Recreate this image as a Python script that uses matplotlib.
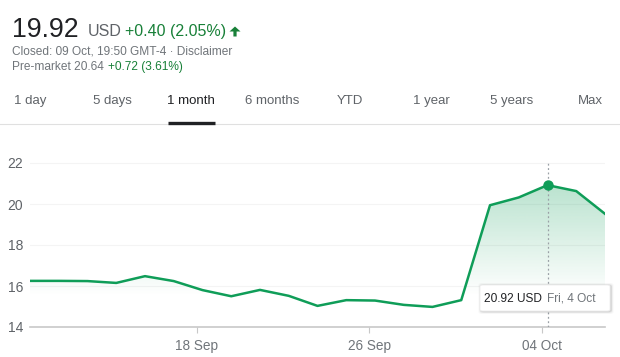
import numpy as np
import matplotlib
matplotlib.use("Agg")
import matplotlib.pyplot as plt
from matplotlib.patches import FancyBboxPatch, Polygon
from matplotlib.lines import Line2D

# ---------------- data ----------------
dates = ["10 Sep", "11 Sep", "12 Sep", "13 Sep", "16 Sep", "17 Sep", "18 Sep",
         "19 Sep", "20 Sep", "23 Sep", "24 Sep", "25 Sep", "26 Sep", "27 Sep",
         "30 Sep", "01 Oct", "02 Oct", "03 Oct", "04 Oct", "07 Oct", "08 Oct"]
prices = [16.25, 16.25, 16.24, 16.15, 16.48, 16.24, 15.80, 15.50, 15.81, 15.52,
          15.03, 15.31, 15.29, 15.08, 14.98, 15.31, 19.94, 20.32, 20.92, 20.63, 19.52]
tick_dates = ["18 Sep", "26 Sep", "04 Oct"]
yticks = [14, 16, 18, 20, 22]
tabs = ["1 day", "5 days", "1 month", "6 months", "YTD", "1 year", "5 years", "Max"]
selected_tab = "1 month"
hover_date = "04 Oct"
hover_label_date = "Fri, 4 Oct"

price_now = "19.92"
currency = "USD"
change = "+0.40 (2.05%)"
closed_line = "Closed: 09 Oct, 19:50 GMT-4 · Disclaimer"
premarket_label = "Pre-market 20.64"
premarket_change = "+0.72 (3.61%)"

# ---------------- style ----------------
W, H = 620, 357
GREEN = "#0f9d58"
GREEN_TXT = "#188038"
GRAY = "#5f6368"
LGRAY = "#70757a"
DARK = "#202124"
plt.rcParams['font.family'] = ['Liberation Sans', 'DejaVu Sans']

fig = plt.figure(figsize=(W / 100, H / 100), dpi=100)
fig.patch.set_facecolor("white")


def fx(x):
    return x / W


def fy(y):
    return 1 - y / H


# ---------------- header ----------------
fig.text(fx(12), fy(37), price_now, fontsize=19.2, color=DARK, va="baseline", ha="left")
fig.text(fx(88), fy(36), currency, fontsize=11.5, color=GRAY, va="baseline", ha="left")
fig.text(fx(125), fy(36), change, fontsize=11.5, color=GREEN_TXT, va="baseline", ha="left")
# filled up-arrow icon
ax_c, a_top, a_mid, a_bot = 235, 26.5, 31.5, 36.5
arrow_pts = [(ax_c, a_top), (ax_c + 5.5, a_mid), (ax_c + 1.6, a_mid), (ax_c + 1.6, a_bot),
             (ax_c - 1.6, a_bot), (ax_c - 1.6, a_mid), (ax_c - 5.5, a_mid)]
fig.add_artist(Polygon([(fx(px), fy(py)) for px, py in arrow_pts], closed=True,
                       transform=fig.transFigure, facecolor=GREEN_TXT, edgecolor="none"))
fig.text(fx(12), fy(55), closed_line, fontsize=8.6, color=LGRAY, va="baseline", ha="left")
fig.text(fx(12), fy(70), premarket_label, fontsize=8.6, color=LGRAY, va="baseline", ha="left")
fig.text(fx(108), fy(70), premarket_change, fontsize=8.6, color=GREEN_TXT, va="baseline", ha="left")

# ---------------- tabs ----------------
tab_centers = [30, 112, 191, 272, 350, 431, 512, 590]
for t, cx in zip(tabs, tab_centers):
    sel = (t == selected_tab)
    fig.text(fx(cx), fy(101), t, fontsize=9.5, color=DARK if sel else GRAY,
             ha="center", va="center")
fig.add_artist(Line2D([0, 1], [fy(123.5), fy(123.5)], transform=fig.transFigure,
                      color="#e0e0e0", lw=0.8))
fig.add_artist(Line2D([fx(168), fx(215)], [fy(122.5), fy(122.5)], transform=fig.transFigure,
                      color=DARK, lw=2.4, solid_capstyle="butt"))

# ---------------- chart ----------------
x = np.arange(len(prices))
ymin, ymax = 14, 22.1
ax_left, ax_right = 30, 605
ax_bottom, ax_top = 327, 327 - (ymax - ymin) * 20.5
ax = fig.add_axes([fx(ax_left), fy(ax_bottom), (ax_right - ax_left) / W, (ax_bottom - ax_top) / H])
ax.set_xlim(0, len(prices) - 1)
ax.set_ylim(ymin, ymax)
ax.patch.set_alpha(0)
for s in ["top", "right", "left"]:
    ax.spines[s].set_visible(False)
ax.spines["bottom"].set_color("#c8c8c8")
ax.spines["bottom"].set_linewidth(1.2)
ax.spines["bottom"].set_zorder(1)

for yv in yticks[1:]:
    ax.axhline(yv, color="#f4f4f4", lw=0.8, zorder=0)

ax.set_yticks(yticks)
ax.set_yticklabels([str(v) for v in yticks], fontsize=10, color=GRAY)
ax.tick_params(axis="y", length=0, pad=5)

offset = -0.2
tick_pos = [dates.index(d) + offset for d in tick_dates]
ax.set_xticks(tick_pos)
ax.set_xticklabels(tick_dates, fontsize=9.8, color=LGRAY)
ax.tick_params(axis="x", length=4, color="#c8c8c8", pad=4.5)

# gradient fill under the line
ny = 200
yy = np.linspace(ymin, ymax, ny)
alpha = np.clip((yy - 15.5) / (21.5 - 15.5), 0, 1) * 0.32
rgba = np.zeros((ny, 1, 4))
rgba[..., 0] = 0x0f / 255
rgba[..., 1] = 0x9d / 255
rgba[..., 2] = 0x58 / 255
rgba[..., 3] = alpha[:, None]
im = ax.imshow(rgba, extent=[0, len(prices) - 1, ymin, ymax], origin="lower",
               aspect="auto", zorder=1, interpolation="bilinear")
poly = Polygon(np.vstack([[0, ymin], np.column_stack([x, prices]), [len(prices) - 1, ymin]]),
               closed=True, transform=ax.transData, facecolor="none", edgecolor="none")
ax.add_patch(poly)
im.set_clip_path(poly)

ax.plot(x, prices, color=GREEN, lw=1.8, zorder=3, solid_joinstyle="round")

hi = dates.index(hover_date)
ax.axvline(hi, color="#9aa0a6", lw=0.9, ls=(0, (1.5, 2)), zorder=2)
ax.plot([hi], [prices[hi]], "o", color=GREEN, ms=6.5, zorder=4)

# tooltip
tip_x0, tip_y0, tip_x1, tip_y1 = 480, 285, 610, 311
for d, a in [(2.5, "#00000008"), (1.5, "#0000000f"), (0.8, "#00000014")]:
    fig.add_artist(FancyBboxPatch((fx(tip_x0 - d + 1), fy(tip_y1 + d + 0.5)),
                                  (tip_x1 - tip_x0 + 2 * d) / W, (tip_y1 - tip_y0 + 2 * d) / H,
                                  boxstyle="round,pad=0,rounding_size=0.006", transform=fig.transFigure,
                                  facecolor=a, edgecolor="none", zorder=5))
box = FancyBboxPatch((fx(tip_x0), fy(tip_y1)), (tip_x1 - tip_x0) / W, (tip_y1 - tip_y0) / H,
                     boxstyle="round,pad=0,rounding_size=0.004", transform=fig.transFigure,
                     facecolor="white", edgecolor="#ececec", lw=0.6, zorder=6)
fig.add_artist(box)
fig.text(fx(484), fy(298.5), f"{prices[hi]:.2f} {currency}", fontsize=8.6, color=DARK,
         ha="left", va="center", zorder=7)
fig.text(fx(547), fy(298.5), hover_label_date, fontsize=8.6, color=LGRAY,
         ha="left", va="center", zorder=7)

fig.savefig("out.png", dpi=100)
